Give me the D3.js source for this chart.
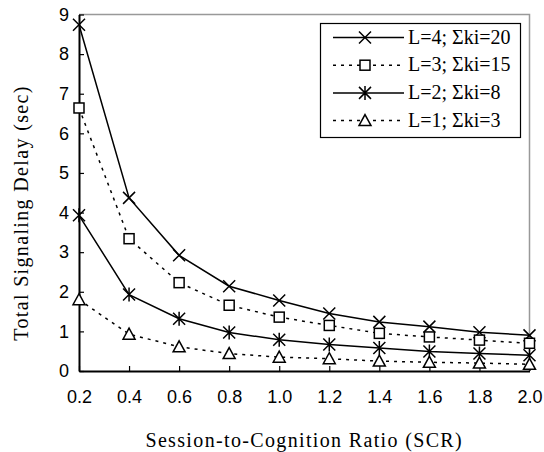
<!DOCTYPE html>
<html><head><meta charset="utf-8">
<script src="https://cdn.jsdelivr.net/npm/d3@7"></script>
<style>body{margin:0;background:#fff}svg{display:block}</style>
</head><body>
<script>
const scr = [0.2,0.4,0.6,0.8,1.0,1.2,1.4,1.6,1.8,2.0];
const seriesNames = ["L=4; Σki=20","L=3; Σki=15","L=2; Σki=8","L=1; Σki=3"];
const l4 = [8.74,4.37,2.92,2.14,1.78,1.45,1.24,1.12,0.98,0.90];
const l3 = [6.64,3.34,2.23,1.66,1.36,1.15,0.95,0.86,0.78,0.70];
const l2 = [3.93,1.93,1.32,0.97,0.79,0.67,0.58,0.49,0.44,0.40];
const l1 = [1.80,0.93,0.61,0.44,0.35,0.31,0.25,0.22,0.20,0.17];
const yTicks = [0,1,2,3,4,5,6,7,8,9];
const xTickLabels = ["0.2","0.4","0.6","0.8","1.0","1.2","1.4","1.6","1.8","2.0"];
const markers = ["x","square","asterisk","triangle"];
const dashed = [false,true,false,true];
const allSeries = [l4,l3,l2,l1];

const W=544,H=452;
const svg=d3.select("body").append("svg").attr("width",W).attr("height",H);
const x=d3.scaleLinear().domain([0.2,2.0]).range([79,529.5]);
const y=d3.scaleLinear().domain([0,9]).range([371,14.5]);
const serif="'Liberation Serif', 'Times New Roman', serif";

// frame top/right gray
svg.append("path").attr("d",`M${x(0.2)},${y(9)}H${x(2.0)}V${y(0)}`).attr("fill","none").attr("stroke","#999").attr("stroke-width",1.5);

// axes
const xAxis=d3.axisBottom(x).tickValues(scr).tickSizeInner(-5).tickSizeOuter(0).tickPadding(12).tickFormat((d,i)=>xTickLabels[i]);
const gx=svg.append("g").attr("transform",`translate(0,${y(0)})`).call(xAxis);
const yAxis=d3.axisLeft(y).tickValues(yTicks).tickSizeInner(-5).tickSizeOuter(0).tickPadding(10).tickFormat(d3.format("d"));
const gy=svg.append("g").attr("transform",`translate(${x(0.2)},0)`).call(yAxis);
[gx,gy].forEach(g=>{
  g.select(".domain").attr("stroke","#000").attr("stroke-width",2);
  g.selectAll(".tick line").attr("stroke","#000").attr("stroke-width",1.2);
  g.selectAll(".tick text").attr("font-family","'Liberation Sans', Arial, sans-serif").attr("font-size",18).attr("fill","#000");
});
gx.selectAll(".tick text").attr("dy","1.1em");

// titles
svg.append("text").attr("x",(x(0.2)+x(2.0))/2).attr("y",447).attr("text-anchor","middle")
  .attr("font-family",serif).attr("font-size",20).attr("letter-spacing",1.35)
  .text("Session-to-Cognition Ratio (SCR)");
svg.append("text").attr("transform",`translate(28,${213}) rotate(-90)`).attr("text-anchor","middle")
  .attr("font-family",serif).attr("font-size",20).attr("letter-spacing",1.35)
  .text("Total Signaling Delay (sec)");

function drawMarker(g,type,cx,cy){
  const s=6;
  if(type==="x"){
    g.append("path").attr("d",`M${cx-s},${cy-s}L${cx+s},${cy+s}M${cx-s},${cy+s}L${cx+s},${cy-s}`).attr("stroke","#000").attr("stroke-width",1.5).attr("fill","none");
  } else if(type==="square"){
    g.append("rect").attr("x",cx-5).attr("y",cy-5).attr("width",10).attr("height",10).attr("fill","#fff").attr("stroke","#000").attr("stroke-width",1.5);
  } else if(type==="asterisk"){
    g.append("path").attr("d",`M${cx-s},${cy-s}L${cx+s},${cy+s}M${cx-s},${cy+s}L${cx+s},${cy-s}M${cx},${cy-s-1}L${cx},${cy+s+1}`).attr("stroke","#000").attr("stroke-width",1.5).attr("fill","none");
  } else {
    g.append("path").attr("d",`M${cx},${cy-6}L${cx+6},${cy+5}L${cx-6},${cy+5}Z`).attr("fill","#fff").attr("stroke","#000").attr("stroke-width",1.5);
  }
}

const line=d3.line().x((d,i)=>x(scr[i])).y(d=>y(d));
allSeries.forEach((vals,si)=>{
  svg.append("path").datum(vals).attr("d",line).attr("fill","none").attr("stroke","#000")
    .attr("stroke-width",1.5).attr("stroke-dasharray",dashed[si]?"3,5":null);
});
allSeries.forEach((vals,si)=>{
  const g=svg.append("g");
  vals.forEach((v,i)=>drawMarker(g,markers[si],x(scr[i]),y(v)));
});

// legend
const lg=svg.append("g");
lg.append("rect").attr("x",320.5).attr("y",23.5).attr("width",200).attr("height",114).attr("fill","#fff").attr("stroke","#000").attr("stroke-width",1.2);
seriesNames.forEach((nm,i)=>{
  const ly=37.5+i*27.7;
  lg.append("line").attr("x1",333).attr("x2",404).attr("y1",ly).attr("y2",ly).attr("stroke","#000").attr("stroke-width",1.5).attr("stroke-dasharray",dashed[i]?"3,5":null);
  drawMarker(lg,markers[i],365,ly);
  lg.append("text").attr("x",408).attr("y",ly+6).attr("font-family",serif).attr("font-size",20).text(nm);
});
</script>
</body></html>
